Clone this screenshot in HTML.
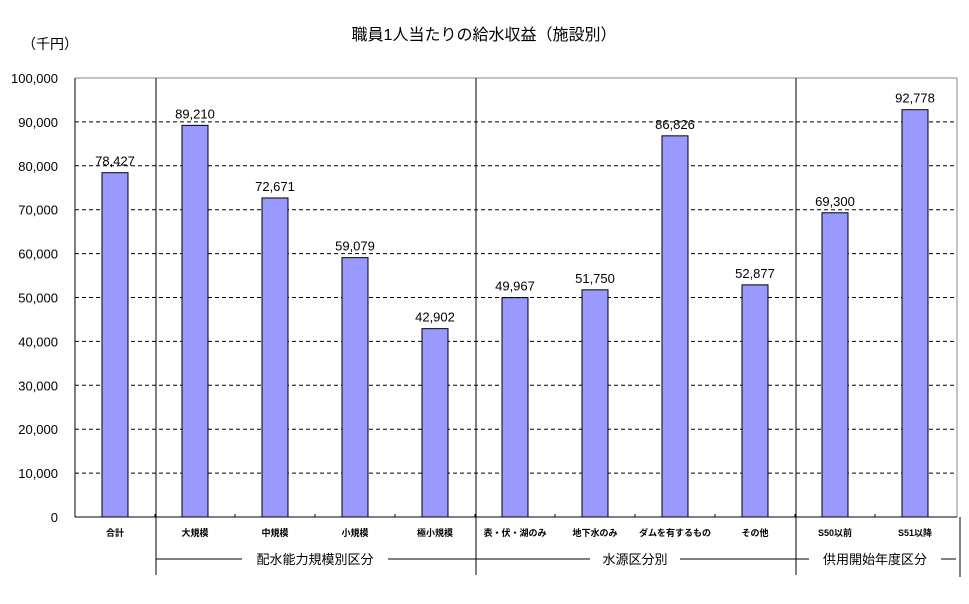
<!DOCTYPE html>
<html><head><meta charset="utf-8"><style>
body{margin:0;background:#fff}
svg{display:block;font-family:"Liberation Sans","Noto Sans CJK JP",sans-serif}
</style></head><body>
<svg id="chart" width="969" height="604">
<text x="484" y="40" font-size="16" text-anchor="middle" fill="#000">職員1人当たりの給水収益（施設別）</text>
<text x="22" y="49" font-size="14" fill="#000">（千円）</text>
<g id="grid"></g><g id="bars"></g><g id="labels"></g>
</svg>
<script>
const categories=["合計","大規模","中規模","小規模","極小規模","表・伏・湖のみ","地下水のみ","ダムを有するもの","その他","S50以前","S51以降"];
const values=[78427,89210,72671,59079,42902,49967,51750,86826,52877,69300,92778];
const yTicks=[0,10000,20000,30000,40000,50000,60000,70000,80000,90000,100000];
const groups=["配水能力規模別区分","水源区分別","供用開始年度区分"];
const groupStart=[1,5,9],groupEnd=[5,9,11];
const NS="http://www.w3.org/2000/svg";
const L=75,R=955,T=78,B=517,yMax=100000;
const y=v=>B-(v/yMax)*(B-T);
const bw=(R-L)/categories.length;
const x=i=>L+bw*(i+0.5);
const svg=document.getElementById('chart');
function mk(t,a,p){const e=document.createElementNS(NS,t);for(const k in a)e.setAttribute(k,a[k]);(p||svg).appendChild(e);return e;}
const grid=document.getElementById('grid'),bars=document.getElementById('bars'),labels=document.getElementById('labels');
yTicks.forEach(v=>{
 if(v>0&&v<yMax){const g=mk('line',{x1:L,x2:R,y1:y(v),y2:y(v),stroke:'#000','stroke-dasharray':'4,3'},grid);
 
 }
 const t=mk('text',{x:58,y:y(v)+5,'font-size':13,'text-anchor':'end'},labels);t.textContent=v.toLocaleString('en-US');
 
 
});
const topBorder=mk('line',{x1:L,x2:R+2,y1:T,y2:T,stroke:'#888'});


const rb=mk('line',{x1:R+2,x2:R+2,y1:T,y2:B,stroke:'#888'});


const ya=mk('line',{x1:L,x2:L,y1:T,y2:B,stroke:'#000'});


const xa=mk('line',{x1:L,x2:R+2,y1:B,y2:B,stroke:'#000'});


for(let i=1;i<categories.length;i++){const tk=mk('line',{x1:L+bw*i,x2:L+bw*i,y1:B-3,y2:B,stroke:'#000'});
 
 }
values.forEach((v,i)=>{
 const r=mk('rect',{x:x(i)-13,y:y(v),width:26,height:B-y(v),fill:'#9999ff',stroke:'#000'},bars);
 
 
 const t=mk('text',{x:x(i),y:y(v)-7,'font-size':13,'text-anchor':'middle'},labels);t.textContent=v.toLocaleString('en-US');
 
 
 const c=mk('text',{x:x(i),y:536,'font-size':9,'font-weight':'bold','text-anchor':'middle'},labels);c.textContent=categories[i];
 
 
});
groupStart.forEach((s,gi)=>{
 const x1=L+bw*s,x2=L+bw*groupEnd[gi];
 const sep=mk('line',{x1:x1+1,x2:x1+1,y1:T,y2:575,stroke:'#000'});
 
 
 const mid=(x1+x2)/2,half=groups[gi].length*7+10;
 const l1=mk('line',{x1:x1+1,x2:mid-half,y1:559,y2:559,stroke:'#000'});
 
 
 const l2=mk('line',{x1:mid+half,x2:Math.min(x2+1,R+5),y1:559,y2:559,stroke:'#000'});
 
 
 const t=mk('text',{x:mid,y:564,'font-size':13,'text-anchor':'middle'},labels);t.textContent=groups[gi];
 
 
});
const endLine=mk('line',{x1:960,x2:960,y1:B,y2:577,stroke:'#000'});


</script>
</body></html>
